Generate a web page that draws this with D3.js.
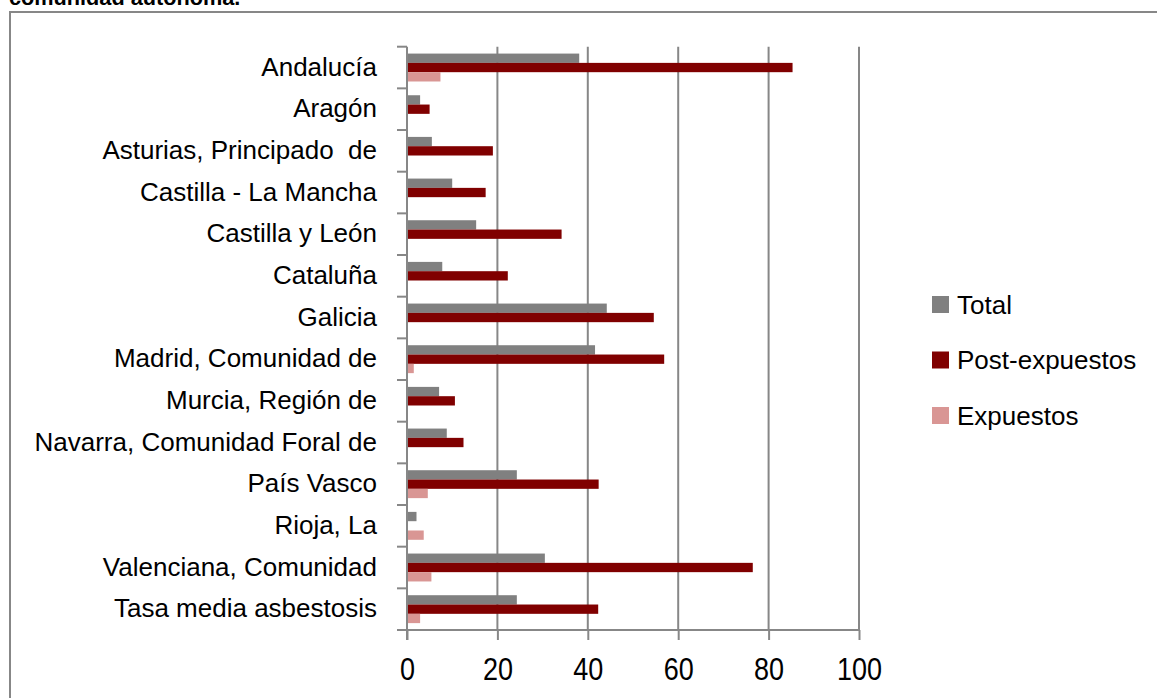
<!DOCTYPE html>
<html>
<head>
<meta charset="utf-8">
<script src="https://cdn.jsdelivr.net/npm/d3@7"></script>
<style>
    body { margin: 0; background: #fff; font-family: "Liberation Sans", Arial, sans-serif; }
    text { white-space: pre; }
</style>
</head>
<body>
<div id="chart"></div>
<script>
    // Categories (top to bottom) and series values
    var categories = ["Andalucía", "Aragón", "Asturias, Principado  de", "Castilla - La Mancha",
        "Castilla y León", "Cataluña", "Galicia", "Madrid, Comunidad de", "Murcia, Región de",
        "Navarra, Comunidad Foral de", "País Vasco", "Rioja, La", "Valenciana, Comunidad",
        "Tasa media asbestosis"];
    var seriesNames = ["Total", "Post-expuestos", "Expuestos"];
    var total = [38.1, 2.9, 5.5, 10.0, 15.3, 7.8, 44.2, 41.6, 7.1, 8.8, 24.3, 2.1, 30.5, 24.3];
    var postExpuestos = [85.3, 5.0, 19.0, 17.4, 34.2, 22.3, 54.6, 56.9, 10.6, 12.5, 42.4, 0, 76.5, 42.3];
    var expuestos = [7.4, 0, 0, 0, 0, 0, 0, 1.5, 0, 0, 4.6, 3.7, 5.4, 2.9];
    var xTicks = [0, 20, 40, 60, 80, 100];

    var colors = ["#808080", "#800000", "#d99694"];
    var gridColor = "#878787";

    var width = 1157, height = 698;
    var plotLeft = 407, plotRight = 859, plotTop = 46.7, plotBottom = 630;

    var svg = d3.select("#chart").append("svg")
        .attr("width", width).attr("height", height);

    // title, cut off by the top of the page
    svg.append("text")
        .attr("x", 9).attr("y", 5)
        .attr("font-size", 21.7).attr("font-weight", "bold")
        .attr("fill", "#000")
        .text("comunidad autónoma.");

    // outer frame
    svg.append("rect")
        .attr("x", 10).attr("y", 12)
        .attr("width", width + 20).attr("height", height + 20)
        .attr("fill", "none").attr("stroke", gridColor).attr("stroke-width", 2);

    var x = d3.scaleLinear().domain([0, 100]).range([plotLeft, plotRight]);
    var y0 = d3.scaleBand().domain(categories).range([plotTop, plotBottom])
        .paddingInner(0.33).paddingOuter(0.165);
    var y1 = d3.scaleBand().domain(seriesNames).range([0, y0.bandwidth()]);

    var rows = categories.map(function (c, i) {
        return { cat: c, values: [total[i], postExpuestos[i], expuestos[i]] };
    });

    // vertical gridlines
    svg.append("g").selectAll("line").data(xTicks.slice(1)).enter().append("line")
        .attr("x1", d => x(d)).attr("x2", d => x(d))
        .attr("y1", plotTop).attr("y2", plotBottom)
        .attr("stroke", gridColor).attr("stroke-width", 2);

    // bars
    var groups = svg.append("g").selectAll("g").data(rows).enter().append("g")
        .attr("transform", d => "translate(0," + y0(d.cat) + ")");
    groups.selectAll("rect")
        .data(d => d.values.map((v, k) => ({ name: seriesNames[k], value: v, k: k })))
        .enter().append("rect")
        .attr("x", x(0))
        .attr("y", d => y1(d.name))
        .attr("width", d => x(d.value) - x(0))
        .attr("height", y1.bandwidth())
        .attr("fill", d => colors[d.k]);

    // x axis
    var stretch = 1.13;
    var xAxis = svg.append("g")
        .attr("transform", "translate(0," + plotBottom + ")")
        .call(d3.axisBottom(x).tickValues(xTicks).tickSize(10).tickSizeOuter(0));
    xAxis.select(".domain").remove();
    xAxis.selectAll("line").attr("stroke", gridColor).attr("stroke-width", 2);
    xAxis.selectAll("text")
        .attr("font-size", 27).attr("font-family", "Liberation Sans, Arial, sans-serif")
        .attr("fill", "#000")
        .attr("y", 50 / stretch).attr("dy", 0)
        .attr("transform", "scale(1," + stretch + ")");

    // category axis: labels at band centres, ticks at band boundaries
    var yAxis = svg.append("g")
        .attr("transform", "translate(" + plotLeft + ",0)")
        .call(d3.axisLeft(y0).tickSize(0).tickPadding(30));
    yAxis.select(".domain").remove();
    yAxis.selectAll("text").attr("font-size", 26).attr("font-family", "Liberation Sans, Arial, sans-serif")
        .attr("fill", "#000").attr("dy", "0.31em");

    var edge = y0.step() * y0.paddingOuter();
    var bounds = categories.map(c => y0(c) - edge).concat([plotBottom]);
    svg.append("g").selectAll("line").data(bounds).enter().append("line")
        .attr("x1", plotLeft - 10).attr("x2", plotLeft)
        .attr("y1", d => d).attr("y2", d => d)
        .attr("stroke", gridColor).attr("stroke-width", 2);

    // axis lines
    svg.append("line")
        .attr("x1", plotLeft).attr("x2", plotLeft).attr("y1", plotTop).attr("y2", plotBottom + 10)
        .attr("stroke", gridColor).attr("stroke-width", 2);
    svg.append("line")
        .attr("x1", plotLeft - 10).attr("x2", plotRight).attr("y1", plotBottom).attr("y2", plotBottom)
        .attr("stroke", gridColor).attr("stroke-width", 2);

    // legend
    var legend = svg.append("g").selectAll("g").data(seriesNames).enter().append("g")
        .attr("transform", (d, i) => "translate(932," + (296 + i * 55.5) + ")");
    legend.append("rect")
        .attr("width", 17).attr("height", 17)
        .attr("fill", (d, i) => colors[i]);
    legend.append("text")
        .attr("x", 25).attr("y", 8.5).attr("dy", "0.35em")
        .attr("font-size", 26).attr("fill", "#000")
        .text(d => d);
</script>
</body>
</html>
